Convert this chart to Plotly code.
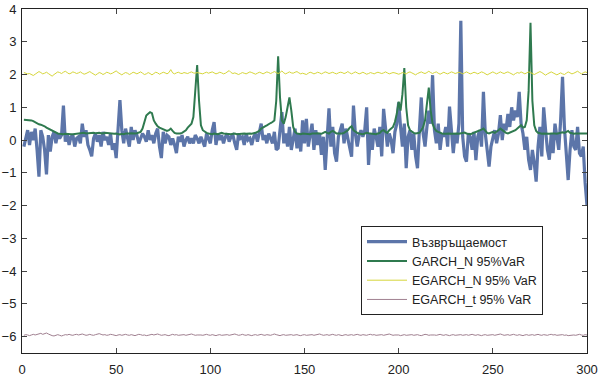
import plotly.graph_objects as go

x_idx = list(range(1, 301))

returns = [
    -0.2, 0.05, 0.3, -0.15, 0.25, 0.0, 0.35, -0.3, -1.12, 0.3,
    0.1, -0.3, -1.05, 0.15, -0.35, 0.1, 0.25, -0.1, 0.2, 0.05,
    0.15, 1.05, -0.05, 0.2, -0.15, 0.1, 0.15, -0.2, 0.05, 0.1,
    -0.1, 0.5, 0.1, 0.3, -0.15, -0.3, -0.5, 0.05, 0.2, -0.05,
    0.15, -0.2, 0.25, 0.0, 0.1, -0.15, 0.2, -0.3, -0.1, -0.55,
    0.2, 1.22, 0.3, -0.1, 0.35, 0.1, -0.2, 0.4, 0.0, 0.3,
    0.15, -0.1, 0.05, 0.2, 0.1, -0.05, 0.3, 0.0, 0.15, -0.1,
    0.2, 0.35, -0.2, -0.55, 0.25, -0.1, 0.15, 0.1, -0.15, 0.05,
    -0.15, -0.4, 0.1, -0.05, 0.15, -0.2, 0.0, 0.1, -0.1, 0.05,
    -0.1, 0.15, 0.05, -0.1, 0.1, -0.05, -0.2, 0.2, 0.05, -0.1,
    0.3, 0.55, -0.15, 0.2, 0.0, 0.15, -0.1, 0.1, 0.2, -0.05,
    0.1, 0.15, -0.1, -0.3, 0.2, 0.05, 0.1, -0.15, 0.2, 0.0,
    0.05, -0.15, 0.1, 0.2, -0.05, 0.3, 0.5, 0.0, 0.15, -0.1,
    0.2, 0.05, -0.1, 0.25, -0.3, -0.25, 0.3, 0.85, -0.1, 0.2,
    -0.2, 0.4, -0.3, 0.1, 0.35, -0.25, 0.2, -0.35, 0.6, -0.1,
    0.65, -0.2, 0.1, 0.5, -0.3, 0.3, -0.15, 0.2, -0.45, 0.1,
    -0.91, 0.2, 0.97, -0.2, 0.4, -0.4, -0.66, 0.1, 0.3, 0.5,
    -0.1, 0.35, 0.05, -0.3, -0.51, 1.05, 0.2, -0.2, 0.15, 0.3,
    0.1, 0.3, 1.0, -0.76, 0.2, -0.3, 0.35, 0.1, -0.2, 0.4,
    -0.5, 0.95, 0.3, -0.2, 0.2, 0.0, -0.4, 0.25, 0.5, 1.15,
    0.4, -0.2, 0.5, -0.86, 0.1, 0.3, -0.3, 0.2, -0.5, -0.86,
    0.3, 1.3, 0.2, -0.2, 0.4, 0.9, 0.5, 1.98, 0.3, -0.1,
    0.5, -0.3, 0.2, 0.1, 0.4, -0.2, 1.02, 0.3, -0.4, 0.2,
    -0.1, 0.5, 3.64, 0.1, -0.5, -0.66, 0.2, 0.1, -0.3, 0.25,
    -0.61, 0.1, 0.3, -0.2, 1.47, 0.2, -0.4, -0.81, -0.2, 0.1,
    0.3, -0.1, 0.2, 0.76, 0.0, 0.5, 0.3, 0.8, 0.4, 1.0,
    0.6, 0.9, 0.7, 1.47, 0.5, 0.2, -0.3, 0.1, -0.6, -0.91,
    -0.3, -0.7, -1.27, -0.2, 0.4, -0.5, 1.0, 0.3, -0.3, -0.6,
    0.2, -0.4, 0.5, 0.1, -0.3, 0.6, 1.93, 0.4, -0.5, -1.22,
    -0.3, 0.3, -0.2, -0.3, 0.4, -0.4, -0.5, -0.2, -1.3, -2.0,
]

garch_n = [
    0.62, 0.62, 0.61, 0.6, 0.6, 0.58, 0.55, 0.5, 0.48, 0.47,
    0.45, 0.42, 0.38, 0.35, 0.32, 0.28, 0.25, 0.22, 0.2, 0.19,
    0.18, 0.18, 0.19, 0.18, 0.17, 0.18, 0.18, 0.19, 0.2, 0.21,
    0.2, 0.21, 0.22, 0.2, 0.21, 0.22, 0.23, 0.22, 0.21, 0.22,
    0.22, 0.21, 0.2, 0.22, 0.21, 0.2, 0.19, 0.18, 0.19, 0.2,
    0.18, 0.17, 0.19, 0.18, 0.2, 0.19, 0.2, 0.21, 0.2, 0.2,
    0.21, 0.22, 0.25, 0.35, 0.55, 0.75, 0.8, 0.85, 0.82, 0.6,
    0.5, 0.42, 0.38, 0.35, 0.33, 0.3, 0.28, 0.3, 0.35, 0.28,
    0.22, 0.2, 0.19, 0.2, 0.22, 0.25, 0.3, 0.38, 0.45, 0.5,
    0.7, 1.5, 2.29, 1.2, 0.45, 0.3, 0.25, 0.22, 0.2, 0.19,
    0.18, 0.2, 0.19, 0.18, 0.2, 0.22, 0.2, 0.19, 0.18, 0.17,
    0.18, 0.19, 0.2, 0.18, 0.19, 0.2, 0.21, 0.2, 0.19, 0.2,
    0.2, 0.19, 0.2, 0.22, 0.25, 0.28, 0.35, 0.4, 0.42, 0.45,
    0.5, 0.52, 0.55, 0.6, 1.2, 2.56, 1.3, 0.6, 0.5, 0.7,
    1.0, 1.3, 0.9, 0.4, 0.25, 0.2, 0.19, 0.18, 0.2, 0.19,
    0.2, 0.19, 0.18, 0.2, 0.19, 0.2, 0.21, 0.2, 0.19, 0.22,
    0.25, 0.22, 0.2, 0.25, 0.28, 0.24, 0.2, 0.2, 0.19, 0.2,
    0.22, 0.25, 0.3, 0.38, 0.42, 0.3, 0.25, 0.22, 0.2, 0.19,
    0.18, 0.2, 0.22, 0.21, 0.2, 0.19, 0.2, 0.18, 0.2, 0.22,
    0.28, 0.3, 0.25, 0.22, 0.3, 0.35, 0.4, 0.55, 0.8, 1.17,
    0.9, 1.4, 2.2, 1.0, 0.45, 0.3, 0.25, 0.22, 0.2, 0.2,
    0.22, 0.3, 0.4, 0.6, 1.2, 1.6, 0.9, 0.5, 0.35, 0.28,
    0.25, 0.22, 0.2, 0.19, 0.2, 0.21, 0.2, 0.19, 0.2, 0.21,
    0.2, 0.19, 0.2, 0.22, 0.23, 0.2, 0.19, 0.18, 0.2, 0.22,
    0.25, 0.28, 0.3, 0.32, 0.35, 0.28, 0.22, 0.2, 0.22, 0.25,
    0.22, 0.25, 0.3, 0.35, 0.3, 0.25, 0.22, 0.2, 0.22, 0.25,
    0.28, 0.3, 0.35, 0.4, 0.45, 0.38, 0.4, 0.6, 1.5, 3.58,
    1.2, 0.45, 0.28, 0.22, 0.2, 0.19, 0.2, 0.19, 0.2, 0.19,
    0.2, 0.21, 0.2, 0.19, 0.2, 0.22, 0.24, 0.22, 0.25, 0.28,
    0.22, 0.2, 0.19, 0.2, 0.2, 0.19, 0.2, 0.2, 0.19, 0.2,
]

egarch_n = [
    2.06, 2.04, 2.02, 2.03, 1.99, 1.97, 2.01, 2.05, 2.09, 2.06, 2.02, 2.04, 2.07, 2.03, 1.98, 1.95, 2.0, 2.05, 2.08, 2.06,
    2.03, 2.07, 2.1, 2.06, 2.02, 2.04, 2.08, 2.06, 2.03, 2.05, 2.08, 2.04, 2.01, 2.03, 2.06, 2.09, 2.05, 2.02, 1.98, 2.02,
    2.06, 2.04, 2.0, 2.03, 2.07, 2.05, 2.02, 2.04, 2.08, 2.11, 2.06, 2.02, 1.99, 2.03, 2.06, 2.04, 2.0, 2.03, 2.07, 2.05,
    2.02, 2.05, 2.08, 2.04, 2.0, 2.02, 2.06, 2.03, 1.99, 2.03, 2.07, 2.05, 2.01, 2.04, 2.07, 2.05, 2.02, 2.06, 2.15, 2.05,
    2.02, 2.05, 2.07, 2.04, 2.03, 2.06, 2.05, 2.03, 2.06, 2.08, 2.05, 2.04, 2.06, 2.05, 2.03, 2.02, 2.05, 2.07, 2.04, 2.06,
    2.08, 2.05, 2.02, 2.04, 2.07, 2.05, 2.02, 2.04, 2.08, 2.12, 2.06, 2.03, 2.05, 2.02, 2.0, 2.03, 2.06, 2.04, 2.02, 2.05,
    2.08, 2.06, 2.03, 2.01, 2.04, 2.07, 2.05, 2.02, 2.05, 2.08, 2.06, 2.03, 2.06, 2.09, 2.06, 2.03, 2.06, 2.11, 2.05, 2.02,
    2.05, 2.08, 2.05, 2.04, 2.07, 2.09, 2.05, 2.02, 2.04, 2.03, 2.0, 2.04, 2.07, 2.05, 2.02, 2.04, 2.07, 2.05, 2.02, 2.05,
    2.08, 2.06, 2.03, 2.05, 2.07, 2.04, 2.02, 2.05, 2.07, 2.06, 2.03, 2.05, 2.09, 2.05, 2.02, 2.05, 2.08, 2.05, 2.02, 2.04,
    2.07, 2.04, 2.01, 2.03, 2.06, 2.04, 2.02, 2.05, 2.07, 2.05, 2.03, 2.05, 2.08, 2.05, 2.02, 2.04, 2.06, 2.05, 2.02, 2.01,
    2.03, 2.06, 2.04, 2.02, 2.06, 2.08, 2.05, 2.02, 1.99, 2.03, 2.06, 2.08, 2.05, 2.03, 2.06, 2.1, 2.06, 2.03, 2.06, 2.08,
    2.04, 2.01, 2.04, 2.07, 2.04, 2.02, 2.05, 2.08, 2.06, 2.03, 2.05, 2.07, 2.05, 2.02, 2.05, 2.08, 2.05, 2.02, 2.04, 2.07,
    2.05, 2.02, 2.05, 2.08, 2.06, 2.02, 1.99, 2.02, 2.05, 2.08, 2.05, 2.02, 2.05, 2.08, 2.05, 2.03, 2.06, 2.08, 2.05, 2.02,
    1.99, 2.03, 2.06, 2.04, 2.08, 2.05, 2.02, 2.05, 2.08, 2.06, 2.03, 2.0, 2.03, 2.06, 2.09, 2.06, 2.02, 1.98, 2.02, 2.05,
    2.08, 2.05, 2.01, 1.99, 2.02, 2.05, 2.02, 2.0, 2.04, 2.08, 2.05, 2.02, 2.04, 2.07, 2.1, 2.06, 2.02, 2.05, 2.08, 2.06,
]

egarch_t = [
    -5.96, -5.94, -5.95, -5.97, -5.95, -5.93, -5.95, -5.94, -5.92, -5.9, -5.93, -5.91, -5.89, -5.92, -5.95, -5.97, -5.98, -5.96, -5.94, -5.96,
    -5.98, -5.96, -5.94, -5.95, -5.93, -5.95, -5.96, -5.94, -5.93, -5.95, -5.94, -5.92, -5.94, -5.96, -5.95, -5.93, -5.95, -5.96, -5.94, -5.93,
    -5.91, -5.93, -5.95, -5.94, -5.96, -5.95, -5.93, -5.94, -5.96, -5.97, -5.95, -5.94, -5.96, -5.95, -5.93, -5.95, -5.96, -5.94, -5.95, -5.97,
    -5.95, -5.93, -5.94, -5.96, -5.95, -5.97, -5.96, -5.94, -5.93, -5.95, -5.94, -5.92, -5.94, -5.96, -5.95, -5.94, -5.96, -5.97, -5.95, -5.93,
    -5.95, -5.94, -5.96, -5.95, -5.93, -5.94, -5.96, -5.95, -5.93, -5.92, -5.94, -5.96, -5.95, -5.94, -5.95, -5.96, -5.94, -5.93, -5.95, -5.96,
    -5.94, -5.95, -5.97, -5.95, -5.94, -5.96, -5.95, -5.93, -5.94, -5.96, -5.95, -5.94, -5.92, -5.94, -5.96, -5.95, -5.93, -5.95, -5.96, -5.94,
    -5.95, -5.97, -5.95, -5.94, -5.96, -5.94, -5.93, -5.95, -5.96, -5.94, -5.95, -5.96, -5.94, -5.92, -5.94, -5.95, -5.97, -5.95, -5.94, -5.96,
    -5.95, -5.93, -5.94, -5.96, -5.95, -5.94, -5.96, -5.97, -5.95, -5.94, -5.96, -5.95, -5.93, -5.94, -5.96, -5.95, -5.94, -5.92, -5.94, -5.96,
    -5.95, -5.94, -5.96, -5.95, -5.93, -5.95, -5.96, -5.94, -5.95, -5.97, -5.95, -5.94, -5.96, -5.95, -5.94, -5.96, -5.94, -5.93, -5.95, -5.96,
    -5.94, -5.95, -5.96, -5.94, -5.93, -5.95, -5.94, -5.96, -5.95, -5.93, -5.94, -5.96, -5.95, -5.94, -5.92, -5.94, -5.96, -5.95, -5.94, -5.95,
    -5.97, -5.95, -5.94, -5.96, -5.95, -5.93, -5.94, -5.96, -5.95, -5.94, -5.96, -5.97, -5.95, -5.93, -5.94, -5.96, -5.95, -5.94, -5.95, -5.96,
    -5.94, -5.93, -5.95, -5.96, -5.94, -5.95, -5.97, -5.95, -5.94, -5.96, -5.95, -5.93, -5.94, -5.96, -5.95, -5.94, -5.96, -5.94, -5.93, -5.95,
    -5.96, -5.94, -5.95, -5.97, -5.95, -5.94, -5.96, -5.95, -5.93, -5.94, -5.96, -5.95, -5.94, -5.92, -5.94, -5.96, -5.95, -5.94, -5.96, -5.95,
    -5.93, -5.95, -5.96, -5.94, -5.95, -5.97, -5.95, -5.94, -5.96, -5.95, -5.94, -5.96, -5.94, -5.93, -5.95, -5.96, -5.94, -5.95, -5.96, -5.94,
    -5.93, -5.95, -5.94, -5.96, -5.95, -5.93, -5.94, -5.96, -5.95, -5.97, -5.96, -5.94, -5.95, -5.96, -5.94, -5.93, -5.95, -5.96, -5.94, -5.95,
]

series_names = ["Възвръщаемост", "GARCH_N 95%VaR", "EGARCH_N 95% VaR", "EGARCH_t 95% VaR"]

x_ticks = [0, 50, 100, 150, 200, 250, 300]
y_ticks = [-6, -5, -4, -3, -2, -1, 0, 1, 2, 3, 4]

fig = go.Figure()
fig.add_trace(go.Scatter(x=x_idx, y=returns, mode="lines", name=series_names[0],
                         line=dict(color="#5c75a9", width=3.2)))
fig.add_trace(go.Scatter(x=x_idx, y=garch_n, mode="lines", name=series_names[1],
                         line=dict(color="#2f7a4f", width=2)))
fig.add_trace(go.Scatter(x=x_idx, y=egarch_n, mode="lines", name=series_names[2],
                         line=dict(color="#d6d63a", width=1)))
fig.add_trace(go.Scatter(x=x_idx, y=egarch_t, mode="lines", name=series_names[3],
                         line=dict(color="#a08090", width=1)))

axis_common = dict(showline=True, linecolor="#222222", linewidth=1, mirror="ticks",
                   ticks="inside", ticklen=5, tickcolor="#444444", showgrid=False,
                   zeroline=False, automargin=False,
                   tickfont=dict(family="Liberation Sans, Arial", size=13, color="#222222"))

fig.update_xaxes(range=[0, 300], tickvals=x_ticks, ticklabelstandoff=4, **axis_common)
fig.update_yaxes(range=[-6.5, 4], tickvals=y_ticks, ticklabelstandoff=2, **axis_common)

fig.update_layout(
    width=599, height=377,
    margin=dict(l=22, r=12, t=9, b=24, autoexpand=False),
    plot_bgcolor="white", paper_bgcolor="white",
    showlegend=True,
    legend=dict(x=0.6, y=0.369, xanchor="left", yanchor="top",
                bgcolor="white", bordercolor="#222222", borderwidth=1,
                font=dict(family="Liberation Sans, Arial", size=12.5, color="#222222"),
                tracegroupgap=0, itemwidth=40),
)

fig.write_html("out.html")
